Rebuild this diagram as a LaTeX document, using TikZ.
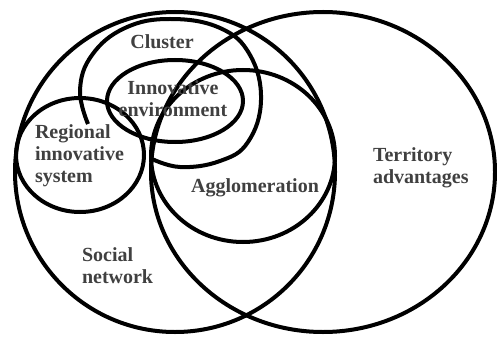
\documentclass[tikz,border=0pt]{standalone}
\usepackage{fontspec}
\setmainfont{Liberation Serif}
\begin{document}
\begin{tikzpicture}[x=1pt, y=-1pt, line width=4pt,
    etiqueta/.style={font=\fontsize{20}{22}\selectfont\bfseries, text=black!75, inner sep=0pt}]
    \useasboundingbox (0,0) rectangle (497,339);

    % Circulos grandes: red social y ventajas territoriales
    \draw (175,172) circle [radius=160pt];
    \draw (323,172) ellipse [x radius=172pt, y radius=160pt];

    % Aglomeracion y sistema regional
    \draw (243,156) ellipse [x radius=92pt, y radius=86pt];
    \draw (80,155) ellipse [x radius=64pt, y radius=57pt];

    % Entorno innovador
    \draw (175,101) ellipse [x radius=68pt, y radius=41pt];

    % Cluster (curva abierta)
    \draw plot[smooth, tension=0.7] coordinates {(88,124) (80,90) (92,55) (125,28)
        (170,19) (220,28) (250,55) (261,100) (248,142) (220,161) (180,167) (150,158)};

    % Etiquetas
    \node[etiqueta] (cluster) at (162,42) {Cluster};
    \node[etiqueta, align=center] (innov) at (173,99) {Innovative\\environment};
    \node[etiqueta, align=left, anchor=west] (regional) at (33,156) {Regional\\innovative\\system};
    \node[etiqueta] (agglo) at (255,188) {Agglomeration};
    \node[etiqueta, align=left, anchor=west] (territory) at (371,168) {Territory\\advantages};
    \node[etiqueta, align=left, anchor=west] (social) at (80,266) {Social\\network};
\end{tikzpicture}
\end{document}
